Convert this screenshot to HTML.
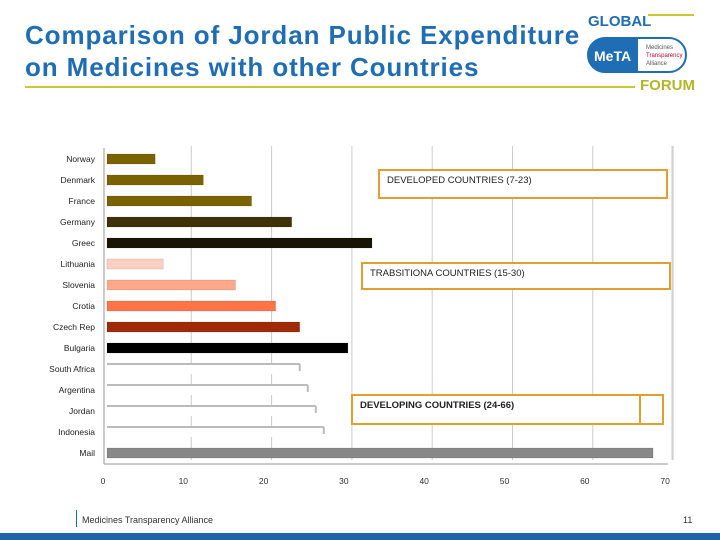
<!DOCTYPE html>
<html><head><meta charset="utf-8"><style>
body{margin:0;width:720px;height:540px;background:#fff;font-family:"Liberation Sans",sans-serif;overflow:hidden;position:relative}
.t{position:absolute;left:25px;top:19px;color:#1f6db4;font-weight:bold;font-size:26px;letter-spacing:0.9px;line-height:32px;white-space:nowrap}
</style></head><body>
<div class="t">Comparison of Jordan Public Expenditure<br>on Medicines with other Countries</div>
<div style="position:absolute;left:25px;top:86px;width:610px;height:2px;background:#c8c832"></div>
<svg style="position:absolute;left:580px;top:8px" width="140" height="86">
<text x="8" y="18" font-family="Liberation Sans" font-weight="bold" font-size="15" fill="#1f6db4">GLOBAL</text>
<line x1="68" y1="7" x2="114" y2="7" stroke="#c8c832" stroke-width="2"/>
<rect x="8" y="30" width="98" height="34" rx="17" fill="#fff" stroke="#1f6db4" stroke-width="2"/>
<path d="M25 30 H58 V64 H25 A17 17 0 0 1 25 30Z" fill="#1f6db4"/>
<text x="14" y="53" font-family="Liberation Sans" font-weight="bold" font-size="14" fill="#fff">MeTA</text>
<text x="66" y="41" font-size="6" font-family="Liberation Sans" fill="#555">Medicines</text>
<text x="66" y="49" font-size="6" font-family="Liberation Sans" fill="#c03">Transparency</text>
<text x="66" y="57" font-size="6" font-family="Liberation Sans" fill="#555">Alliance</text>
<text x="60" y="82" font-family="Liberation Sans" font-weight="bold" font-size="15" fill="#b5b52a">FORUM</text>
</svg>
<svg id="chart" style="position:absolute;left:0;top:0" width="720" height="500"></svg>
<div style="position:absolute;left:76px;top:510px;width:1px;height:17px;background:#1f6db4"></div>
<div style="position:absolute;left:82px;top:515px;font-size:9px;color:#333">Medicines Transparency Alliance</div>
<div style="position:absolute;left:683px;top:515px;font-size:9px;color:#333">11</div>
<div style="position:absolute;left:0;top:533px;width:720px;height:7px;background:#1f63a8"></div>
<script>
const countries=["Norway","Denmark","France","Germany","Greec","Lithuania","Slovenia","Crotia","Czech Rep","Bulgaria","South Africa","Argentina","Jordan","Indonesia","Mail"];
const values=[6,12,18,23,33,7,16,21,24,30,24,25,26,27,68];
const colors=["#7a6200","#7a6200","#7a6200","#3f3208","#1a1405","#fcd0c0","#fca88a","#ff7448","#a02a08","#000","#fff","#fff","#fff","#fff","#888"];
const ticks=[0,10,20,30,40,50,60,70];
const ns="http://www.w3.org/2000/svg",svg=document.getElementById("chart");
const X0=107,SC=8.03,Y0=159,STEP=21;
const xs=v=>X0+v*SC, ys=i=>Y0+i*STEP;
function mk(t,a){const e=document.createElementNS(ns,t);for(const k in a)e.setAttribute(k,a[k]);svg.appendChild(e);return e;}
ticks.forEach(t=>{
 if(t>0){const g=mk("line",{x1:xs(t)+4,y1:146,x2:xs(t)+4,y2:460,stroke:"#ccc"});
 
 }
 const l=mk("text",{x:xs(t)-4,y:484,"font-size":8.5,"text-anchor":"middle",fill:"#333","font-family":"Liberation Sans"});l.textContent=t;
 
 
});
mk("line",{x1:104,y1:148,x2:104,y2:464,stroke:"#999"});
mk("line",{x1:104,y1:464,x2:668,y2:464,stroke:"#999"});
mk("line",{x1:672,y1:146,x2:672,y2:460,stroke:"#ccc"});
countries.forEach((c,i)=>{
 const y=ys(i);
 const l=mk("text",{x:95,y:y+3,"font-size":8.5,"text-anchor":"end",fill:"#222","font-family":"Liberation Sans"});l.textContent=c;
 
 
 const w=xs(values[i])-X0;
 const r=mk("rect",{x:X0,y:y-5,width:w,height:10,fill:colors[i],stroke:colors[i]==="#fff"?"none":"#0003","stroke-width":0.5});
 
 
 if(colors[i]==="#fff"){mk("line",{x1:X0,y1:y-5,x2:X0+w,y2:y-5,stroke:"#bbb","stroke-width":2});mk("line",{x1:X0+w,y1:y-5,x2:X0+w,y2:y+2,stroke:"#bbb","stroke-width":2});}
});
function box(x,y,w,h,txt,bold,nm){
 const r=mk("rect",{x:x,y:y,width:w,height:h,fill:"#fff",stroke:"#e0a030","stroke-width":2});
 
 
 const t=mk("text",{x:x+8,y:y+13,"font-size":9.5,fill:"#222","font-family":"Liberation Sans","font-weight":bold?"bold":"normal"});t.textContent=txt;
 
 
}
box(379,170,288,28,"DEVELOPED  COUNTRIES (7-23)",false,"developed-box");
box(362,263,308,26,"TRABSITIONA  COUNTRIES (15-30)",false,"transitional-box");
box(352,395,311,29,"DEVELOPING  COUNTRIES (24-66)",true,"developing-box");
mk("line",{x1:640,y1:395,x2:640,y2:424,stroke:"#e0a030","stroke-width":2});
</script>
</body></html>
